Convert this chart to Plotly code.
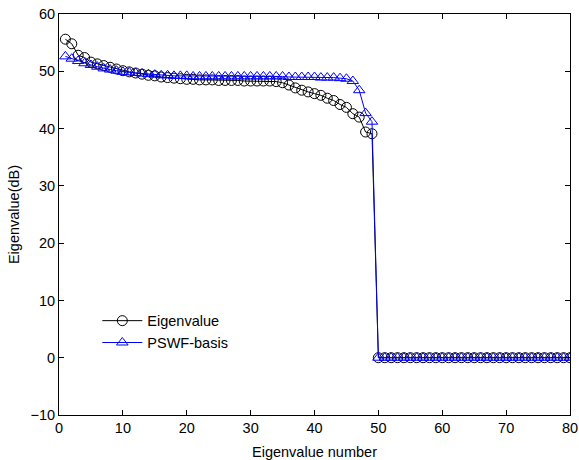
import plotly.graph_objects as go

x_vals = list(range(1, 81))
eigenvalue = [55.6, 54.8, 52.8, 52.4, 51.6, 51.3, 51.0, 50.7, 50.4, 50.1,
              49.9, 49.7, 49.5, 49.3, 49.2, 49.0, 48.9, 48.8, 48.7, 48.6,
              48.6, 48.5, 48.5, 48.5, 48.4, 48.4, 48.4, 48.4, 48.3, 48.3,
              48.3, 48.3, 48.3, 48.2, 48.0, 47.6, 47.1, 46.7, 46.4, 46.1,
              45.8, 45.3, 44.9, 44.2, 43.7, 42.6, 42.0, 39.4, 39.1] + [0.0] * 31
pswf_basis = [52.6, 52.2, 51.8, 51.4, 51.1, 50.8, 50.5, 50.3, 50.1, 49.9,
              49.8, 49.7, 49.6, 49.5, 49.4, 49.3, 49.3, 49.2, 49.2, 49.2,
              49.1, 49.1, 49.1, 49.1, 49.1, 49.1, 49.1, 49.1, 49.1, 49.1,
              49.1, 49.1, 49.1, 49.1, 49.1, 49.0, 49.0, 49.0, 49.0, 49.0,
              48.9, 48.9, 48.9, 48.8, 48.7, 48.3, 46.7, 42.7, 41.2] + [0.0] * 31
x_ticks = [0, 10, 20, 30, 40, 50, 60, 70, 80]
y_ticks = [-10, 0, 10, 20, 30, 40, 50, 60]

font = dict(family="Arial, Liberation Sans, sans-serif", size=14.5, color="black")

fig = go.Figure()
fig.add_trace(go.Scatter(
    x=x_vals, y=eigenvalue, name="Eigenvalue", mode="lines+markers",
    line=dict(color="black", width=1),
    marker=dict(symbol="circle-open", size=10, color="black", line=dict(width=1)),
))
fig.add_trace(go.Scatter(
    x=x_vals, y=pswf_basis, name="PSWF-basis", mode="lines+markers",
    line=dict(color="blue", width=1),
    marker=dict(symbol="triangle-up-open", size=10, color="blue", line=dict(width=1)),
))

axis_common = dict(
    showline=True, linecolor="black", linewidth=1, mirror="ticks",
    ticks="inside", ticklen=5, tickcolor="black", tickwidth=1,
    showgrid=False, zeroline=False, tickfont=font, automargin=False,
)
fig.update_layout(
    width=579, height=460,
    margin=dict(l=59, r=9, t=14, b=45),
    paper_bgcolor="white", plot_bgcolor="white",
    font=font,
    xaxis=dict(range=[0, 80], tickvals=x_ticks,
               title=dict(text="Eigenvalue number", font=font, standoff=11),
               **axis_common),
    yaxis=dict(range=[-10, 60], tickvals=y_ticks,
               title=dict(text="Eigenvalue(dB)", font=font, standoff=7),
               **axis_common),
    legend=dict(x=0.075, y=0.275, xanchor="left", yanchor="top",
                bgcolor="rgba(0,0,0,0)", font=font, tracegroupgap=0,
                itemwidth=40),
    showlegend=True,
)
fig.write_html("out.html")
